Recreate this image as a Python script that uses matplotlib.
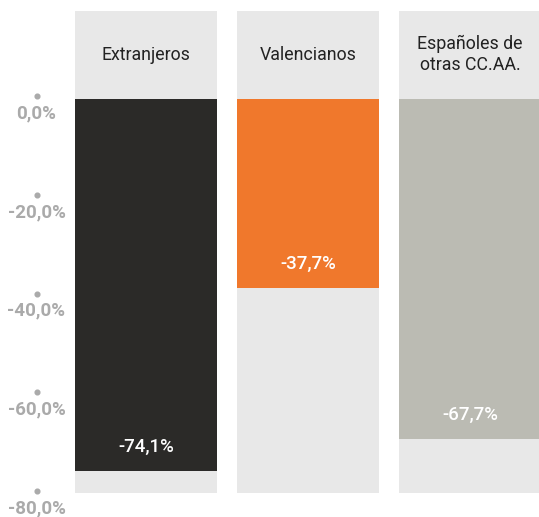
import matplotlib
matplotlib.use("Agg")
import matplotlib.pyplot as plt

categories = ["Extranjeros", "Valencianos", "Españoles de\notras CC.AA."]
values = [-74.1, -37.7, -67.7]
colors = ["#2b2a28", "#f0782c", "#bbbbb3"]
tick_values = [0, -20, -40, -60, -80]
tick_labels = ["0,0%", "-20,0%", "-40,0%", "-60,0%", "-80,0%"]

W, H = 539, 517
fig = plt.figure(figsize=(W / 100, H / 100), dpi=100)
plt.rcParams["font.family"] = ["Roboto", "DejaVu Sans"]

ymin, ymax = -78.5, 17.5
top_px, bot_px = 11, 493
lefts = [75, 237, 399]
panel_w = 142

for left, cat, val, col in zip(lefts, categories, values, colors):
    ax = fig.add_axes([left / W, 1 - bot_px / H, panel_w / W, (bot_px - top_px) / H])
    ax.set_facecolor("#e8e8e8")
    ax.bar([0], [val], width=1.0, color=col, bottom=0)
    ax.set_xlim(-0.5, 0.5)
    ax.set_ylim(ymin, ymax)
    ax.set_xticks([])
    ax.set_yticks([])
    for s in ax.spines.values():
        s.set_visible(False)
    ax.text(0, 8.8, cat, ha="center", va="center", fontsize=12.8,
            color="#222222", linespacing=1.2)
    ax.text(0, val + 4.8, f"{val:.1f}%".replace(".", ","), ha="center",
            va="center", fontsize=13.5, color="white", fontweight="medium")

# axis labels on the left (own scale: 0 at 99 px, -80 at 494 px)
lab = fig.add_axes([0, 1 - 494 / H, 70 / W, (494 - 99) / H])
lab.set_xlim(0, 70)
lab.set_ylim(-80, 0)
lab.axis("off")
for v, t in zip(tick_values, tick_labels):
    lab.plot([36.5], [v + 0.6], "o", ms=3.4, color="#aaaaaa", clip_on=False)
    lab.text(36.5, v - 2.9, t, ha="center", va="center", fontsize=13.5,
             color="#aaaaaa", fontweight="bold", clip_on=False)

fig.savefig("out.png", dpi=100)
